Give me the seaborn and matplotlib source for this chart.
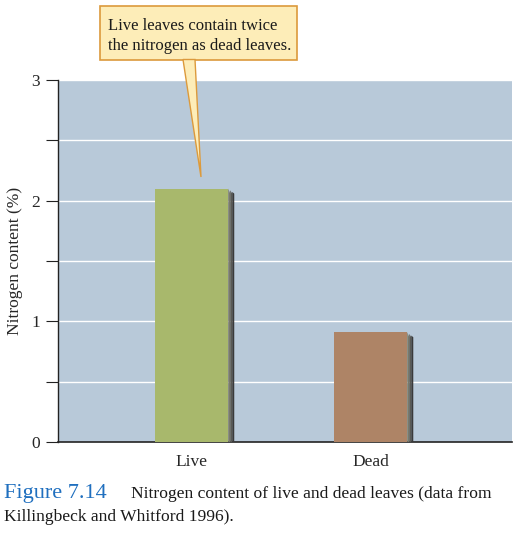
import numpy as np
import pandas as pd
import matplotlib
matplotlib.use('Agg')
import matplotlib.pyplot as plt
from matplotlib.patches import Polygon, FancyBboxPatch
import seaborn as sns

# data
leaf_state = ['Live', 'Dead']
nitrogen = [2.10, 0.91]
bar_colors = ['#a8b86c', '#ae8466']
y_ticks = [0, 1, 2, 3]

sns.set_style('white')
plt.rcParams['font.family'] = ['Liberation Serif', 'DejaVu Serif']

df = pd.DataFrame({'state': leaf_state, 'nitrogen': nitrogen})

fig = plt.figure(figsize=(5.2, 5.41), dpi=100)
ax = fig.add_axes([58 / 520, 99 / 541, 454 / 520, 362 / 541])
ax.set_facecolor('#b8c9d9')

sns.barplot(data=df, x='state', y='nitrogen', hue='state', palette=bar_colors,
            width=0.41, legend=False, ax=ax, zorder=3, saturation=1,
            edgecolor='none', linewidth=0)

ax.set_ylim(0, 3)
ax.set_xlim(-0.746, 1.79)
ax.set_yticks(y_ticks)
ax.set_yticks(np.arange(0.5, 3, 1.0), minor=True)
ax.yaxis.grid(True, which='both', color='white', lw=1.0, zorder=0)
ax.set_axisbelow(True)
ax.tick_params(axis='y', which='both', direction='out', length=9, width=0.8,
               color='#222222', labelsize=12.5, left=True, pad=4)
ax.tick_params(axis='x', length=0, labelsize=12.5, pad=9)
ax.set_xlabel('')
ax.set_ylabel('Nitrogen content (%)', fontsize=12.5, labelpad=6)
for s in ['top', 'right']:
    ax.spines[s].set_visible(False)
ax.spines['left'].set_color('#222222')
ax.spines['bottom'].set_color('#222222')
ax.spines['left'].set_linewidth(1.0)
ax.spines['bottom'].set_linewidth(1.2)

# 3D-style shadow on the right side of each bar
px = (ax.get_xlim()[1] - ax.get_xlim()[0]) / 454
py = 3 / 362
for p in ax.patches[:len(leaf_state)]:
    x1 = p.get_x() + p.get_width()
    h = p.get_height()
    d = 6 * px
    for i, c in enumerate(['#7a7a6a', '#5a5a55', '#3a3a3a']):
        xa = x1 + i * d / 3
        xb = x1 + (i + 1) * d / 3
        poly = Polygon([(xa, 0), (xb, 0), (xb, h - 5 * py),
                        (xa, h - (i * 5 / 3) * py)], closed=True,
                       facecolor=c, edgecolor='none', zorder=3)
        ax.add_patch(poly)

# callout
box = FancyBboxPatch((100 / 520, 1 - 60 / 541), 197 / 520, 54 / 541,
                     boxstyle='square,pad=0', transform=fig.transFigure,
                     facecolor='#fdedb8', edgecolor='#dc9a3c', lw=1.2, zorder=5)
fig.patches.append(box)
tail = Polygon([(183 / 520, 1 - 59.5 / 541), (195 / 520, 1 - 59.5 / 541),
                (201 / 520, 1 - 177 / 541)], closed=True, transform=fig.transFigure,
               facecolor='#fdedb8', edgecolor='#dc9a3c', lw=1.0, zorder=5)
fig.patches.append(tail)
fig.text(108 / 520, 1 - 30 / 541, 'Live leaves contain twice',
         ha='left', va='baseline', fontsize=12, color='#1a1a1a', zorder=7)
fig.text(108 / 520, 1 - 50 / 541, 'the nitrogen as dead leaves.',
         ha='left', va='baseline', fontsize=12, color='#1a1a1a', zorder=7)

# caption
fig.text(4 / 520, 1 - 498 / 541, 'Figure 7.14', fontsize=16, color='#1f6fbf',
         va='baseline')
fig.text(131 / 520, 1 - 498 / 541, 'Nitrogen content of live and dead leaves (data from',
         fontsize=12.6, color='#1a1a1a', va='baseline')
fig.text(4 / 520, 1 - 521 / 541, 'Killingbeck and Whitford 1996).',
         fontsize=12.6, color='#1a1a1a', va='baseline')

fig.savefig('out.png', dpi=100)
